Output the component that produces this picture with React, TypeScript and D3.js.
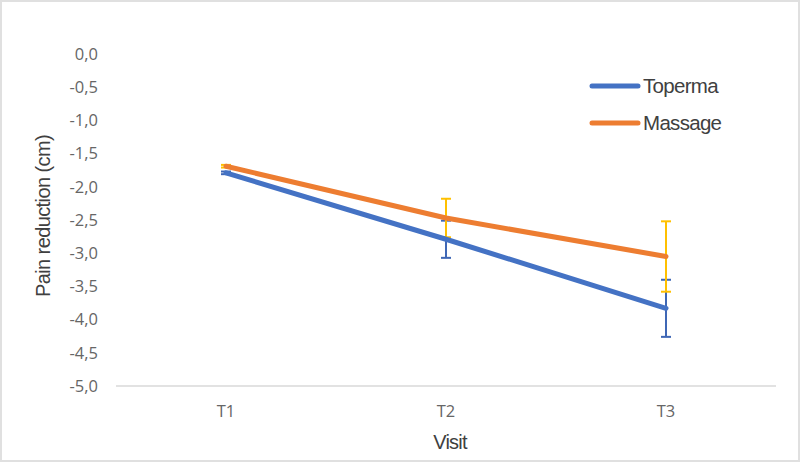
import * as d3 from 'd3'

// Mean pain reduction (cm) per visit, with error bar half-widths
const visits = ['T1', 'T2', 'T3']
const topermaMean = [-1.79, -2.79, -3.83]
const topermaErr = [0.02, 0.28, 0.43]
const massageMean = [-1.69, -2.47, -3.05]
const massageErr = [0.02, 0.29, 0.53]
const yTicks = [0, -0.5, -1, -1.5, -2, -2.5, -3, -3.5, -4, -4.5, -5]

const W = 800
const H = 462

export default function App() {
  const x = d3.scaleBand<string>().domain(visits).range([116, 776])
  const y = d3.scaleLinear().domain([-5, 0]).range([386, 54])
  const cx = (v: string) => (x(v) ?? 0) + x.bandwidth() / 2

  const line = d3.line<number>()
    .x((_, i) => cx(visits[i]))
    .y((d) => y(d))

  const series = [
    { name: 'Toperma', mean: topermaMean, err: topermaErr, color: '#4472C4', errColor: '#3F67B5' },
    { name: 'Massage', mean: massageMean, err: massageErr, color: '#ED7D31', errColor: '#FFC000' },
  ]

  const fmt = (v: number) => v.toFixed(1).replace('.', ',')

  return (
    <svg width={W} height={H} style={{ position: 'absolute', left: 0, top: 0, background: '#fff' }}>
      <rect x={1} y={1} width={W - 2} height={H - 2} fill="#fff" stroke="#e0e0e0" strokeWidth={2} />

      {/* y tick labels */}
      {yTicks.map((t) => (
        <text key={t} x={98} y={y(t)} dy="0.35em" textAnchor="end"
          fontFamily="'Open Sans', sans-serif" fontSize={16.5} fill="#666">
          {fmt(t)}
        </text>
      ))}

      {/* baseline */}
      <line x1={116} x2={776} y1={y(-5)} y2={y(-5)} stroke="#d9d9d9" strokeWidth={1.5} />

      {/* x tick labels */}
      {visits.map((v) => (
        <text key={v} x={cx(v)} y={417} textAnchor="middle"
          fontFamily="'Open Sans', sans-serif" fontSize={16.5} fill="#666">
          {v}
        </text>
      ))}

      {/* axis titles */}
      <text x={450} y={449} textAnchor="middle" fontFamily="'Liberation Sans', Arial, sans-serif"
        fontSize={20} fill="#404040" letterSpacing={-0.8}>Visit</text>
      <text transform={`translate(50, 216) rotate(-90)`} textAnchor="middle"
        fontFamily="'Liberation Sans', Arial, sans-serif" fontSize={20} fill="#404040" letterSpacing={-0.6}>
        Pain reduction (cm)
      </text>

      {/* error bars */}
      {series.map((s) => (
        <g key={s.name + '-err'} stroke={s.errColor} strokeWidth={2}>
          {s.mean.map((m, i) => {
            const px = cx(visits[i])
            const top = y(m + s.err[i])
            const bot = y(m - s.err[i])
            return (
              <g key={i}>
                <line x1={px} x2={px} y1={top} y2={bot} />
                <line x1={px - 5} x2={px + 5} y1={top} y2={top} />
                <line x1={px - 5} x2={px + 5} y1={bot} y2={bot} />
              </g>
            )
          })}
        </g>
      ))}

      {/* lines */}
      {series.map((s) => (
        <path key={s.name} d={line(s.mean) ?? ''} fill="none" stroke={s.color}
          strokeWidth={5} strokeLinecap="round" strokeLinejoin="round" />
      ))}

      {/* legend */}
      {series.map((s, i) => (
        <g key={s.name + '-leg'} transform={`translate(592, ${86 + i * 37})`}>
          <line x1={0} x2={46} y1={0} y2={0} stroke={s.color} strokeWidth={5} strokeLinecap="round" />
          <text x={51} y={0} dy="0.36em" fontFamily="'Liberation Sans', Arial, sans-serif"
            fontSize={20.5} fill="#404040" letterSpacing={-0.7}>{s.name}</text>
        </g>
      ))}
    </svg>
  )
}
